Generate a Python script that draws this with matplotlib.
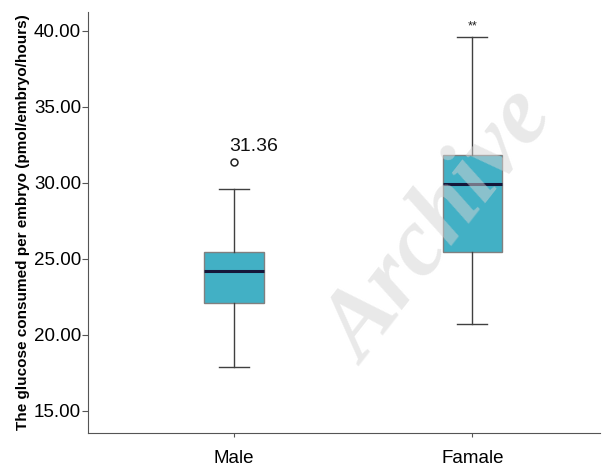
import matplotlib
matplotlib.use("Agg")
import matplotlib.pyplot as plt

categories = ["Male", "Famale"]
whislo = [17.92, 20.7]
q1 = [22.13, 25.48]
med = [24.23, 29.91]
q3 = [25.46, 31.84]
whishi = [29.59, 39.6]
outliers = [[31.36], []]
outlier_labels = ["31.36", None]
sig_labels = [None, "**"]
yticks = [15, 20, 25, 30, 35, 40]
ylabel = "The glucose consumed per embryo (pmol/embryo/hours)"

plt.rcParams['font.family'] = ['Liberation Sans', 'DejaVu Sans']

fig = plt.figure(figsize=(6.08, 4.67), dpi=100)
ax = fig.add_axes([88/608, 1-433/467, (600-88)/608, (433-12)/467])

stats = []
for i, c in enumerate(categories):
    stats.append(dict(label=c, whislo=whislo[i], q1=q1[i], med=med[i],
                      q3=q3[i], whishi=whishi[i], fliers=[]))
positions = [1, 2]
bp = ax.bxp(stats, positions=positions, widths=0.25, patch_artist=True,
            showfliers=False,
            boxprops=dict(facecolor="#42b0c5", edgecolor="#808080", linewidth=1.0),
            medianprops=dict(color="#15173a", linewidth=2.2),
            whiskerprops=dict(color="#404040", linewidth=1.0),
            capprops=dict(color="#404040", linewidth=1.0),
            capwidths=0.125)

for i, pos in enumerate(positions):
    for v in outliers[i]:
        ax.plot([pos], [v], marker='o', markersize=5, markerfacecolor='none',
                markeredgecolor='#222222', markeredgewidth=1.1, linestyle='none')
        if outlier_labels[i]:
            ax.text(pos - 0.02, v + 0.5, outlier_labels[i], fontsize=14,
                    ha='left', va='bottom', color='#111111')
    if sig_labels[i]:
        ax.text(pos, whishi[i] + 0.3, sig_labels[i], fontsize=9,
                ha='center', va='bottom', color='#222222')

ax.set_xlim(0.389, 2.535)
ax.set_ylim(13.55, 41.25)
ax.set_yticks(yticks)
ax.set_yticklabels([f"{t:.2f}" for t in yticks], fontsize=13.5)
ax.set_xticks(positions)
ax.set_xticklabels(categories, fontsize=13.5)
ax.tick_params(axis='y', length=4, width=0.8, color='#555555', pad=1)
ax.tick_params(axis='x', length=3, width=0.8, color='#555555', pad=9)
ax.spines['top'].set_visible(False)
ax.spines['right'].set_visible(False)
ax.spines['left'].set_color('#555555')
ax.spines['bottom'].set_color('#555555')
ax.set_ylabel(ylabel, fontsize=11, fontweight='bold', labelpad=3)

fig.text(0.725, 0.51, "Archive", fontsize=70, fontweight='bold', fontstyle='italic',
         family='Liberation Serif', rotation=52, color='#d4d4d4', alpha=0.5,
         ha='center', va='center', zorder=10)

fig.savefig("out.png", dpi=100)
